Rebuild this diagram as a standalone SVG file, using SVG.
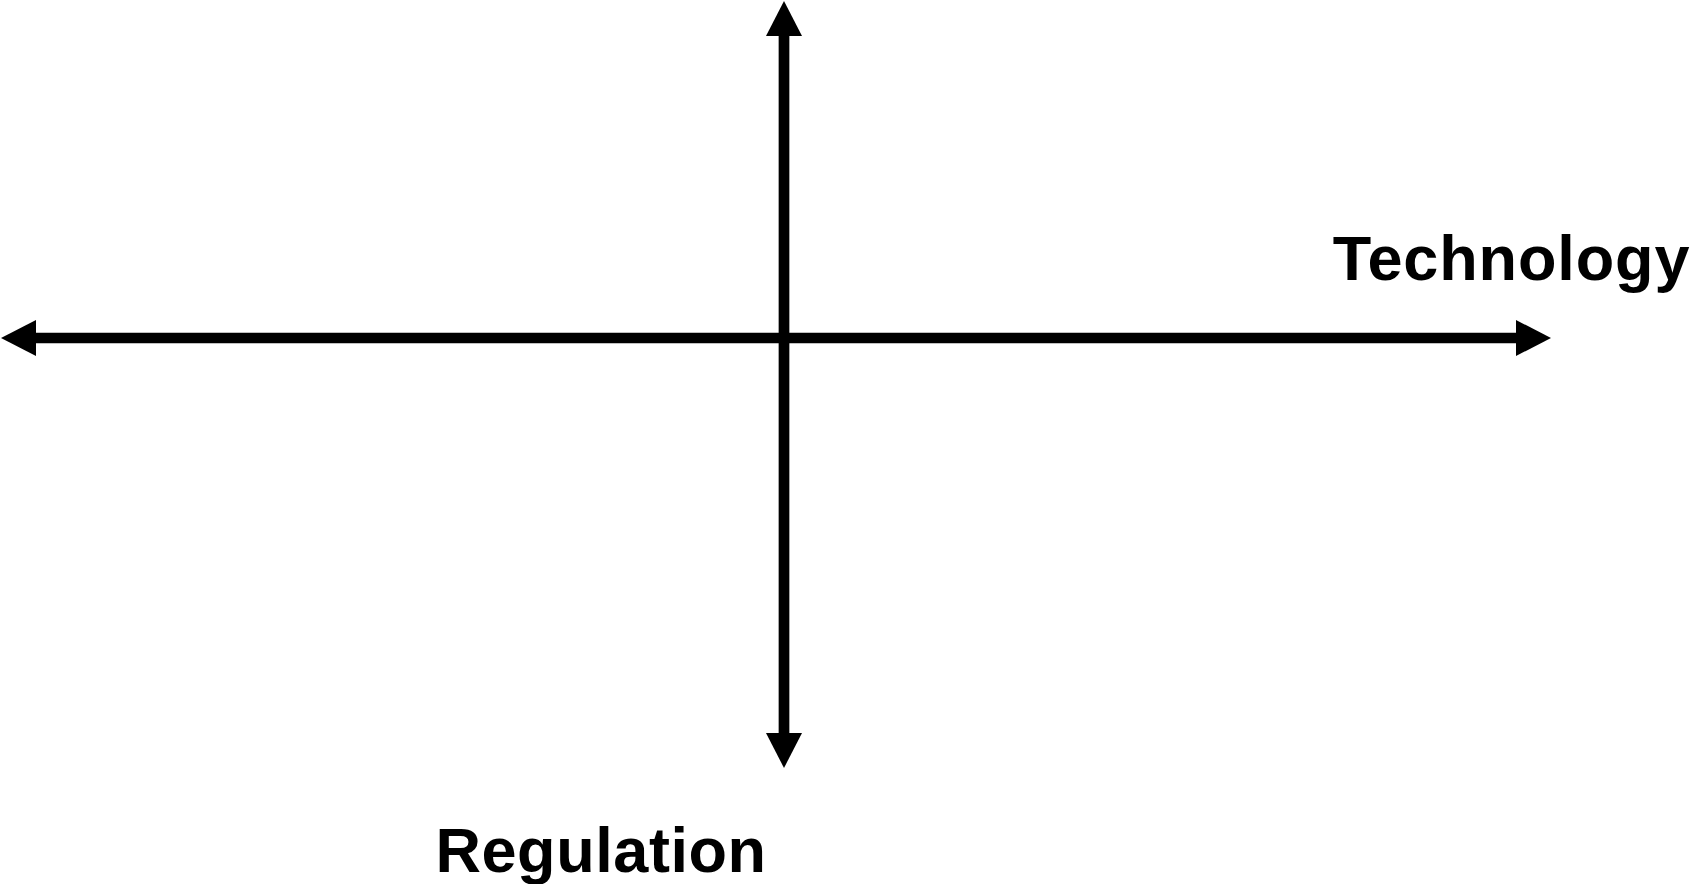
<svg xmlns="http://www.w3.org/2000/svg" width="1693" height="884" viewBox="0 0 1693 884">
  <style>
    .axis { stroke: #000; stroke-width: 10.7; fill: none; marker-start: url(#head); marker-end: url(#head); }
    .label { font-family: "Liberation Sans", Arial, sans-serif; font-weight: bold; font-size: 63px; fill: #000; }
  </style>
  <defs>
    <marker id="head" markerUnits="userSpaceOnUse" viewBox="0 0 35 36" markerWidth="35" markerHeight="36" refX="1" refY="18" orient="auto-start-reverse">
      <path d="M0,0 L35,18 L0,36 Z" fill="#000"/>
    </marker>
  </defs>
  <rect width="1693" height="884" fill="#fff"/>
  <g id="connectors">
    <line class="axis" x1="784" y1="35" x2="784" y2="734"/>
    <line class="axis" x1="35" y1="338" x2="1517" y2="338"/>
  </g>
  <g id="technology">
    <text class="label" x="1332.7" y="280" textLength="356.8" lengthAdjust="spacing">Technology</text>
  </g>
  <g id="regulation">
    <text class="label" x="435.4" y="872" textLength="330.7" lengthAdjust="spacing">Regulation</text>
  </g>
</svg>
